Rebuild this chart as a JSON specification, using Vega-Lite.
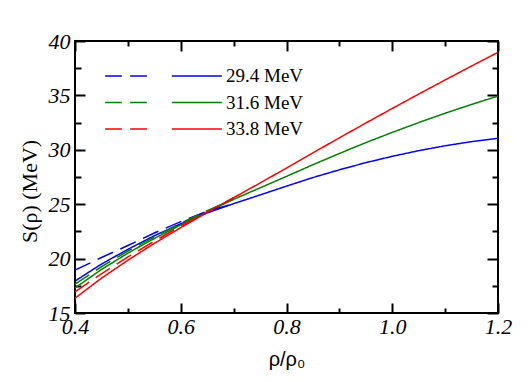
{
  "$schema": "https://vega.github.io/schema/vega-lite/v6.json",
  "width": 423,
  "height": 272,
  "autosize": {"type": "none"},
  "padding": {"left": 75, "top": 41, "right": 31, "bottom": 69},
  "background": "white",
  "config": {
    "view": {"stroke": "black", "strokeWidth": 2},
    "axis": {"domain": false, "grid": false, "tickColor": "black", "tickWidth": 2, "labelColor": "black", "titleColor": "black"}
  },
  "data": {
    "values": [
      {"rho": 0.40, "S": 17.93, "series": "29.4 MeV", "kind": "solid"},
      {"rho": 0.45, "S": 19.50, "series": "29.4 MeV", "kind": "solid"},
      {"rho": 0.50, "S": 20.85, "series": "29.4 MeV", "kind": "solid"},
      {"rho": 0.55, "S": 22.10, "series": "29.4 MeV", "kind": "solid"},
      {"rho": 0.60, "S": 23.20, "series": "29.4 MeV", "kind": "solid"},
      {"rho": 0.65, "S": 24.20, "series": "29.4 MeV", "kind": "solid"},
      {"rho": 0.70, "S": 25.05, "series": "29.4 MeV", "kind": "solid"},
      {"rho": 0.75, "S": 25.85, "series": "29.4 MeV", "kind": "solid"},
      {"rho": 0.80, "S": 26.66, "series": "29.4 MeV", "kind": "solid"},
      {"rho": 0.85, "S": 27.45, "series": "29.4 MeV", "kind": "solid"},
      {"rho": 0.90, "S": 28.16, "series": "29.4 MeV", "kind": "solid"},
      {"rho": 0.95, "S": 28.82, "series": "29.4 MeV", "kind": "solid"},
      {"rho": 1.00, "S": 29.40, "series": "29.4 MeV", "kind": "solid"},
      {"rho": 1.05, "S": 29.92, "series": "29.4 MeV", "kind": "solid"},
      {"rho": 1.10, "S": 30.37, "series": "29.4 MeV", "kind": "solid"},
      {"rho": 1.15, "S": 30.75, "series": "29.4 MeV", "kind": "solid"},
      {"rho": 1.20, "S": 31.06, "series": "29.4 MeV", "kind": "solid"},
      {"rho": 0.40, "S": 17.30, "series": "31.6 MeV", "kind": "solid"},
      {"rho": 0.45, "S": 19.00, "series": "31.6 MeV", "kind": "solid"},
      {"rho": 0.50, "S": 20.50, "series": "31.6 MeV", "kind": "solid"},
      {"rho": 0.55, "S": 21.85, "series": "31.6 MeV", "kind": "solid"},
      {"rho": 0.60, "S": 23.10, "series": "31.6 MeV", "kind": "solid"},
      {"rho": 0.65, "S": 24.30, "series": "31.6 MeV", "kind": "solid"},
      {"rho": 0.70, "S": 25.45, "series": "31.6 MeV", "kind": "solid"},
      {"rho": 0.75, "S": 26.50, "series": "31.6 MeV", "kind": "solid"},
      {"rho": 0.80, "S": 27.56, "series": "31.6 MeV", "kind": "solid"},
      {"rho": 0.85, "S": 28.63, "series": "31.6 MeV", "kind": "solid"},
      {"rho": 0.90, "S": 29.66, "series": "31.6 MeV", "kind": "solid"},
      {"rho": 0.95, "S": 30.66, "series": "31.6 MeV", "kind": "solid"},
      {"rho": 1.00, "S": 31.60, "series": "31.6 MeV", "kind": "solid"},
      {"rho": 1.05, "S": 32.50, "series": "31.6 MeV", "kind": "solid"},
      {"rho": 1.10, "S": 33.36, "series": "31.6 MeV", "kind": "solid"},
      {"rho": 1.15, "S": 34.17, "series": "31.6 MeV", "kind": "solid"},
      {"rho": 1.20, "S": 34.94, "series": "31.6 MeV", "kind": "solid"},
      {"rho": 0.40, "S": 16.36, "series": "33.8 MeV", "kind": "solid"},
      {"rho": 0.45, "S": 18.20, "series": "33.8 MeV", "kind": "solid"},
      {"rho": 0.50, "S": 19.85, "series": "33.8 MeV", "kind": "solid"},
      {"rho": 0.55, "S": 21.40, "series": "33.8 MeV", "kind": "solid"},
      {"rho": 0.60, "S": 22.85, "series": "33.8 MeV", "kind": "solid"},
      {"rho": 0.65, "S": 24.25, "series": "33.8 MeV", "kind": "solid"},
      {"rho": 0.70, "S": 25.60, "series": "33.8 MeV", "kind": "solid"},
      {"rho": 0.75, "S": 26.95, "series": "33.8 MeV", "kind": "solid"},
      {"rho": 0.80, "S": 28.32, "series": "33.8 MeV", "kind": "solid"},
      {"rho": 0.85, "S": 29.72, "series": "33.8 MeV", "kind": "solid"},
      {"rho": 0.90, "S": 31.10, "series": "33.8 MeV", "kind": "solid"},
      {"rho": 0.95, "S": 32.46, "series": "33.8 MeV", "kind": "solid"},
      {"rho": 1.00, "S": 33.80, "series": "33.8 MeV", "kind": "solid"},
      {"rho": 1.05, "S": 35.12, "series": "33.8 MeV", "kind": "solid"},
      {"rho": 1.10, "S": 36.42, "series": "33.8 MeV", "kind": "solid"},
      {"rho": 1.15, "S": 37.70, "series": "33.8 MeV", "kind": "solid"},
      {"rho": 1.20, "S": 38.96, "series": "33.8 MeV", "kind": "solid"},
      {"rho": 0.40, "S": 18.94, "series": "29.4 MeV", "kind": "dashed"},
      {"rho": 0.45, "S": 20.10, "series": "29.4 MeV", "kind": "dashed"},
      {"rho": 0.50, "S": 21.20, "series": "29.4 MeV", "kind": "dashed"},
      {"rho": 0.55, "S": 22.35, "series": "29.4 MeV", "kind": "dashed"},
      {"rho": 0.60, "S": 23.40, "series": "29.4 MeV", "kind": "dashed"},
      {"rho": 0.65, "S": 24.35, "series": "29.4 MeV", "kind": "dashed"},
      {"rho": 0.70, "S": 25.05, "series": "29.4 MeV", "kind": "dashed"},
      {"rho": 0.40, "S": 17.65, "series": "31.6 MeV", "kind": "dashed"},
      {"rho": 0.45, "S": 19.25, "series": "31.6 MeV", "kind": "dashed"},
      {"rho": 0.50, "S": 20.70, "series": "31.6 MeV", "kind": "dashed"},
      {"rho": 0.55, "S": 22.00, "series": "31.6 MeV", "kind": "dashed"},
      {"rho": 0.60, "S": 23.25, "series": "31.6 MeV", "kind": "dashed"},
      {"rho": 0.65, "S": 24.40, "series": "31.6 MeV", "kind": "dashed"},
      {"rho": 0.70, "S": 25.45, "series": "31.6 MeV", "kind": "dashed"},
      {"rho": 0.40, "S": 16.95, "series": "33.8 MeV", "kind": "dashed"},
      {"rho": 0.45, "S": 18.60, "series": "33.8 MeV", "kind": "dashed"},
      {"rho": 0.50, "S": 20.15, "series": "33.8 MeV", "kind": "dashed"},
      {"rho": 0.55, "S": 21.60, "series": "33.8 MeV", "kind": "dashed"},
      {"rho": 0.60, "S": 23.00, "series": "33.8 MeV", "kind": "dashed"},
      {"rho": 0.65, "S": 24.30, "series": "33.8 MeV", "kind": "dashed"},
      {"rho": 0.70, "S": 25.60, "series": "33.8 MeV", "kind": "dashed"}
    ]
  },
  "resolve": {"axis": {"x": "independent", "y": "independent"}},
  "layer": [
    {
      "mark": {"type": "line", "strokeWidth": 1.5, "clip": true},
      "encoding": {
        "x": {
          "field": "rho", "type": "quantitative",
          "scale": {"domain": [0.4, 1.2], "nice": false, "zero": false},
          "axis": {
            "orient": "bottom", "values": [0.4, 0.6, 0.8, 1.0, 1.2], "format": ".1f",
            "tickSize": -10, "labelPadding": 13, "labelFlush": false, "labelOverlap": false,
            "labelFont": "Liberation Serif", "labelFontStyle": "italic", "labelFontSize": 22,
            "title": "ρ/ρ₀", "titleFont": "Liberation Sans", "titleFontSize": 20, "titleFontWeight": "normal", "titlePadding": 12
          }
        },
        "y": {
          "field": "S", "type": "quantitative",
          "scale": {"domain": [15, 40], "nice": false, "zero": false},
          "axis": {
            "orient": "left", "values": [15, 20, 25, 30, 35, 40],
            "tickSize": -10, "labelPadding": 15, "labelFlush": false, "labelOverlap": false,
            "labelFont": "Liberation Serif", "labelFontStyle": "italic", "labelFontSize": 22,
            "title": "S(ρ) (MeV)", "titleFont": "Liberation Serif", "titleFontSize": 22, "titleFontWeight": "normal", "titlePadding": 7, "titleY": 150
          }
        },
        "color": {
          "field": "series", "type": "nominal",
          "scale": {"domain": ["29.4 MeV", "31.6 MeV", "33.8 MeV"], "range": ["#0000ff", "#008000", "#ff0000"]},
          "legend": {
            "orient": "none", "legendX": 29, "legendY": 25, "title": null, "padding": 0,
            "symbolType": "M-1,0H-0.714M-0.572,0H-0.285M0.143,0H1",
            "symbolSize": 13619, "symbolStrokeWidth": 1.5, "symbolFillColor": "transparent",
            "clipHeight": 20,
            "labelFont": "Liberation Serif", "labelFontSize": 19, "labelColor": "black",
            "labelOffset": 3, "rowPadding": 6.5
          }
        },
        "strokeDash": {
          "field": "kind", "type": "nominal",
          "scale": {"domain": ["solid", "dashed"], "range": [[1, 0], [17, 8]]},
          "legend": null
        }
      }
    },
    {
      "mark": {"type": "point", "opacity": 0},
      "encoding": {
        "x": {
          "field": "rho", "type": "quantitative",
          "scale": {"domain": [0.4, 1.2], "nice": false, "zero": false},
          "axis": {"orient": "bottom", "values": [0.5, 0.7, 0.9, 1.1], "tickSize": -5, "labels": false, "title": null}
        },
        "y": {
          "field": "S", "type": "quantitative",
          "scale": {"domain": [15, 40], "nice": false, "zero": false},
          "axis": {"orient": "left", "values": [17.5, 22.5, 27.5, 32.5, 37.5], "tickSize": -6, "labels": false, "title": null}
        }
      }
    },
    {
      "mark": {"type": "point", "opacity": 0},
      "encoding": {
        "x": {
          "field": "rho", "type": "quantitative",
          "scale": {"domain": [0.4, 1.2], "nice": false, "zero": false},
          "axis": {"orient": "top", "values": [0.4, 0.6, 0.8, 1.0, 1.2], "tickSize": -10, "labels": false, "title": null}
        },
        "y": {
          "field": "S", "type": "quantitative",
          "scale": {"domain": [15, 40], "nice": false, "zero": false},
          "axis": {"orient": "right", "values": [15, 20, 25, 30, 35, 40], "tickSize": -11, "labels": false, "title": null}
        }
      }
    },
    {
      "mark": {"type": "point", "opacity": 0},
      "encoding": {
        "x": {
          "field": "rho", "type": "quantitative",
          "scale": {"domain": [0.4, 1.2], "nice": false, "zero": false},
          "axis": {"orient": "top", "values": [0.5, 0.7, 0.9, 1.1], "tickSize": -5, "labels": false, "title": null}
        },
        "y": {
          "field": "S", "type": "quantitative",
          "scale": {"domain": [15, 40], "nice": false, "zero": false},
          "axis": {"orient": "right", "values": [17.5, 22.5, 27.5, 32.5, 37.5], "tickSize": -6, "labels": false, "title": null}
        }
      }
    }
  ]
}
